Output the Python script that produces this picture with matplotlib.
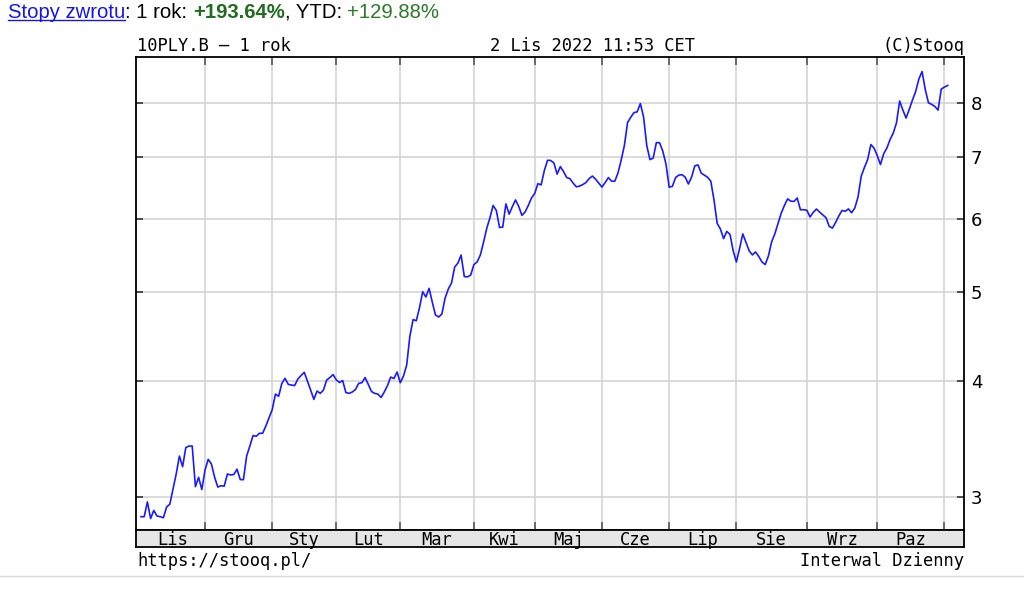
"""
plot.py
-------
10PLY.B – 1 rok (stooq style daily chart, log scale).
"""

import numpy as np
import matplotlib
matplotlib.use("Agg")
import matplotlib.pyplot as plt
from matplotlib.lines import Line2D
from matplotlib.ticker import NullLocator

# ─────────────────────────────────────────────────────────────────────────────
# Data (one close per trading day, 2 Nov 2021 -> 2 Nov 2022)
# ─────────────────────────────────────────────────────────────────────────────

price = [
    2.854, 2.854, 2.961, 2.841, 2.899, 2.859, 2.854, 2.847, 2.924, 2.944,   # Lis
    3.056, 3.175, 3.320, 3.233, 3.391, 3.404, 3.404, 3.076, 3.149, 3.054,
    3.206, 3.293, 3.255, 3.149, 3.073, 3.083, 3.080, 3.175, 3.167, 3.171,   # Gru
    3.213, 3.131, 3.130, 3.320, 3.404, 3.494, 3.488, 3.514, 3.514, 3.578,
    3.652,
    3.728, 3.875, 3.853, 3.980, 4.030, 3.970, 3.963, 3.958, 4.023, 4.058,   # Sty
    4.091, 4.003, 3.914, 3.824, 3.904, 3.882, 3.914, 4.013, 4.038, 4.068,
    4.015, 3.988, 4.008, 3.890, 3.882, 3.895, 3.919, 3.980, 3.986, 4.038,   # Lut
    3.970, 3.900, 3.882, 3.875, 3.842, 3.895, 3.958, 4.043, 4.028, 4.094,
    3.986, 4.053, 4.166, 4.478, 4.666, 4.652, 4.806, 5.001, 4.936, 5.044,   # Mar
    4.873, 4.719, 4.696, 4.731, 4.923, 5.035, 5.111, 5.319, 5.372, 5.480,
    5.194, 5.190, 5.214,
    5.352, 5.386, 5.480, 5.656, 5.857, 6.012, 6.202, 6.125, 5.871, 5.876,   # Kwi
    6.226, 6.069, 6.182, 6.288, 6.187, 6.050, 6.103, 6.202, 6.319,
    6.391, 6.549, 6.528, 6.765, 6.941, 6.938, 6.893, 6.706, 6.833, 6.748,   # Maj
    6.648, 6.630, 6.557, 6.496, 6.509, 6.533, 6.566, 6.631, 6.673, 6.623,
    6.557,
    6.492, 6.566, 6.648, 6.590, 6.587, 6.723, 6.943, 7.200, 7.626, 7.728,   # Cze
    7.817, 7.832, 7.996, 7.731, 7.200, 6.953, 6.979, 7.254, 7.251, 7.102,
    6.875,
    6.491, 6.504, 6.648, 6.689, 6.696, 6.656, 6.543, 6.656, 6.845, 6.862,   # Lip
    6.723, 6.688, 6.653, 6.589, 6.288, 5.930, 5.848, 5.710, 5.813, 5.770,
    5.537,
    5.386, 5.572, 5.777, 5.656, 5.537, 5.482, 5.523, 5.460, 5.386, 5.352,   # Sie
    5.467, 5.663, 5.777, 5.930, 6.083, 6.202, 6.304, 6.269, 6.264, 6.318,
    6.136, 6.136,
    6.129, 6.027, 6.095, 6.147, 6.100, 6.057, 6.015, 5.886, 5.861, 5.945,   # Wrz
    6.042, 6.125, 6.113, 6.148, 6.090, 6.164, 6.335, 6.673, 6.819, 6.953,
    7.218, 7.154,
    7.023, 6.867, 7.053, 7.155, 7.309, 7.429, 7.617, 8.046, 7.867, 7.712,   # Paz
    7.881, 8.066, 8.239, 8.500, 8.660, 8.280, 8.010, 7.980, 7.938, 7.867,
    8.290,
    8.332, 8.365,                                                           # Lis
]

month_labels = ["Lis", "Gru", "Sty", "Lut", "Mar", "Kwi",
                "Maj", "Cze", "Lip", "Sie", "Wrz", "Paz"]
month_starts = [0, 20, 41, 61, 81, 104, 123, 144, 165, 186, 208, 230, 251]
y_ticks = [3, 4, 5, 6, 7, 8]

title_left   = "10PLY.B \u2013 1 rok"
title_center = "2 Lis 2022 11:53 CET"
title_right  = "(C)Stooq"
footer_left  = "https://stooq.pl/"
footer_right = "Interwal Dzienny"

returns_line = [
    ("Stopy zwrotu", "#1515e6", "normal"),
    (": 1 rok: ",    "black",   "normal"),
    ("+193.64%",     "#1f6e1f", "bold"),
    (", YTD: ",      "black",   "normal"),
    ("+129.88%",     "#2a7a2a", "normal"),
]

# ─────────────────────────────────────────────────────────────────────────────
# Layout helpers (pixel -> figure fraction)
# ─────────────────────────────────────────────────────────────────────────────

W, H = 1024, 602
MONO = "DejaVu Sans Mono"
MONO_SIZE = 12.3


def fx(px):
    return px / W


def fy(py):
    return 1 - py / H


fig = plt.figure(figsize=(W / 100, H / 100), dpi=100)
fig.patch.set_facecolor("white")

# ── Main price panel ──────────────────────────────────────────────────────────
ax = fig.add_axes([fx(136), fy(530), fx(964) - fx(136), fy(57) - fy(530)])
days = np.arange(len(price))
ax.plot(days, price, color="#1a1aff", lw=1.2, zorder=3)

ax.set_yscale("log")
ax.set_xlim(-1.56, 257.1)
ax.set_ylim(2.761, 8.98)

ax.set_yticks(y_ticks)
ax.set_yticklabels([str(v) for v in y_ticks])
ax.yaxis.set_minor_locator(NullLocator())
ax.set_xticks(month_starts[1:])
ax.xaxis.set_minor_locator(NullLocator())

ax.grid(True, color="#d4d4d4", lw=1.2, zorder=1)
ax.tick_params(axis="x", direction="in", length=6, width=1.2, color="#555555",
               top=True, bottom=True, labelbottom=False)
ax.tick_params(axis="y", direction="in", length=5, width=1.2, color="#333333",
               left=True, right=True, labelleft=False, labelright=True,
               labelsize=13, pad=5)
for sp in ax.spines.values():
    sp.set_linewidth(1.3)
    sp.set_color("black")

# ── Month band ────────────────────────────────────────────────────────────────
bx = fig.add_axes([fx(136), fy(547), fx(964) - fx(136), fy(530) - fy(547)])
bx.set_facecolor("#e6e6e6")
bx.set_xlim(ax.get_xlim())
bx.set_ylim(0, 1)
bx.set_xticks([])
bx.set_yticks([])
for sp in bx.spines.values():
    sp.set_linewidth(1.3)
    sp.set_color("black")
for i, lab in enumerate(month_labels):
    mid = (month_starts[i] + month_starts[i + 1]) / 2
    bx.text(mid, 0.12, lab, ha="center", va="baseline",
            family=MONO, fontsize=MONO_SIZE)

# ── Header / footer texts ─────────────────────────────────────────────────────
fig.text(fx(137), fy(51), title_left, ha="left", va="baseline",
         family=MONO, fontsize=MONO_SIZE)
fig.text(fx(592), fy(51), title_center, ha="center", va="baseline",
         family=MONO, fontsize=MONO_SIZE)
fig.text(fx(964), fy(51), title_right, ha="right", va="baseline",
         family=MONO, fontsize=MONO_SIZE)
fig.text(fx(137), fy(566), footer_left, ha="left", va="baseline",
         family=MONO, fontsize=MONO_SIZE)
fig.text(fx(964), fy(566), footer_right, ha="right", va="baseline",
         family=MONO, fontsize=MONO_SIZE)

# ── "Stopy zwrotu" line, pieces laid out one after another ───────────────────
renderer = fig.canvas.get_renderer()
x = 8.0
for k, (s, col, wt) in enumerate(returns_line):
    t = fig.text(fx(x), fy(17.5), s, ha="left", va="baseline", color=col,
                 fontweight=wt, family="Liberation Sans", fontsize=14.6)
    bb = t.get_window_extent(renderer)
    if k == 0:
        fig.add_artist(Line2D([fx(bb.x0), fx(bb.x1)], [fy(20), fy(20)],
                              color=col, lw=1.0))
    x += bb.width

# light page separator under the chart
fig.add_artist(Line2D([0, 1], [fy(576), fy(576)], color="#d9d9d9", lw=1.0))

fig.savefig("out.png", dpi=100)
plt.close(fig)
